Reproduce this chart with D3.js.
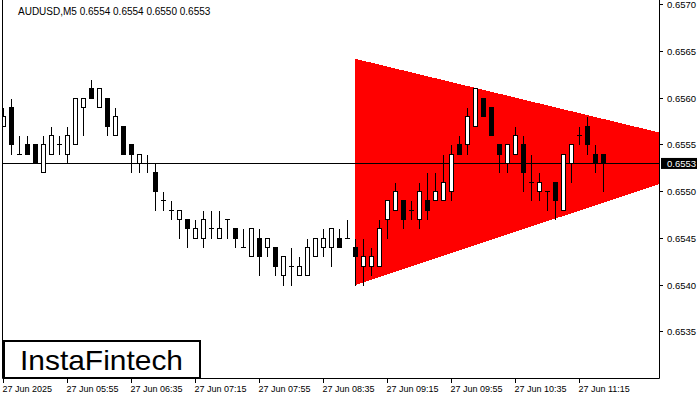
<!DOCTYPE html>
<html><head><meta charset="utf-8">
<script src="https://cdn.jsdelivr.net/npm/d3@7"></script>
<style>
html,body{margin:0;padding:0;background:#fff;}
svg{display:block;}
text{font-family:"Liberation Sans",Arial,sans-serif;}
</style></head>
<body>
<svg id="chart" width="700" height="400"></svg>
<script>
const symbolTitle = "AUDUSD,M5  0.6554 0.6554 0.6550 0.6553";
const opens  = [0.6557,0.6559,0.6554,0.6555,0.6555,0.6552,0.6554,0.6555,0.6554,0.6555,0.6559,0.6561,0.6559,0.6560,0.6556,0.6557,0.6555,0.6553,0.6553,0.6552,0.6549,0.6548,0.6547,0.6547,0.6545,0.6545,0.6546,0.6545,0.6547,0.6546,0.6544,0.6543,0.6545,0.6544,0.6544,0.6541,0.6542,0.6541,0.6541,0.6543,0.6544,0.6544,0.6545,0.6545,0.6544,0.6542,0.6542,0.6542,0.6547,0.6548,0.6549,0.6548,0.6547,0.6549,0.6549,0.6549,0.6550,0.6555,0.6555,0.6557,0.6560,0.6559,0.6555,0.6553,0.6554,0.6555,0.6551,0.6550,0.6550,0.6551,0.6548,0.6553,0.6556,0.6557,0.6554,0.6554];
const highs  = [0.6559,0.6560,0.6556,0.6556,0.6555,0.6556,0.6557,0.6556,0.6557,0.6560,0.6560,0.6562,0.6561,0.6560,0.6559,0.6557,0.6555,0.6554,0.6554,0.6553,0.6550,0.6549,0.6548,0.6547,0.6547,0.6548,0.6548,0.6548,0.6547,0.6546,0.6546,0.6546,0.6546,0.6545,0.6544,0.6543,0.6544,0.6543,0.6545,0.6545,0.6546,0.6546,0.6546,0.6547,0.6545,0.6545,0.6544,0.6547,0.6549,0.6551,0.6549,0.6549,0.6551,0.6552,0.6552,0.6554,0.6555,0.6556,0.6559,0.6561,0.6560,0.6559,0.6555,0.6555,0.6557,0.6556,0.6554,0.6552,0.6550,0.6551,0.6554,0.6555,0.6557,0.6558,0.6555,0.6554];
const lows   = [0.6557,0.6554,0.6554,0.6554,0.6553,0.6552,0.6554,0.6554,0.6553,0.6555,0.6556,0.6560,0.6559,0.6556,0.6556,0.6554,0.6552,0.6552,0.6552,0.6548,0.6548,0.6547,0.6545,0.6544,0.6545,0.6544,0.6545,0.6545,0.6545,0.6544,0.6544,0.6543,0.6541,0.6543,0.6541,0.6540,0.6540,0.6541,0.6541,0.6543,0.6543,0.6542,0.6544,0.6545,0.6540,0.6540,0.6541,0.6542,0.6545,0.6548,0.6546,0.6547,0.6546,0.6547,0.6549,0.6549,0.6549,0.6554,0.6554,0.6557,0.6558,0.6556,0.6552,0.6552,0.6554,0.6550,0.6549,0.6549,0.6548,0.6547,0.6548,0.6551,0.6555,0.6554,0.6552,0.6550];
const closes = [0.6558,0.6555,0.6554,0.6554,0.6553,0.6555,0.6556,0.6555,0.6556,0.6560,0.6560,0.6560,0.6561,0.6557,0.6558,0.6554,0.6554,0.6554,0.6553,0.6550,0.6549,0.6548,0.6548,0.6546,0.6546,0.6547,0.6546,0.6546,0.6547,0.6545,0.6544,0.6546,0.6543,0.6545,0.6542,0.6543,0.6542,0.6542,0.6544,0.6545,0.6545,0.6546,0.6544,0.6545,0.6543,0.6543,0.6543,0.6546,0.6549,0.6550,0.6547,0.6548,0.6550,0.6548,0.6550,0.6551,0.6554,0.6554,0.6558,0.6561,0.6558,0.6556,0.6554,0.6555,0.6556,0.6552,0.6551,0.6551,0.6550,0.6549,0.6554,0.6555,0.6556,0.6555,0.6553,0.6553];
const xTickIdx = [0,8,16,24,32,40,48,56,64,72];
const xTickLabels = ["27 Jun 2025","27 Jun 05:55","27 Jun 06:35","27 Jun 07:15","27 Jun 07:55","27 Jun 08:35","27 Jun 09:15","27 Jun 09:55","27 Jun 10:35","27 Jun 11:15"];
const yTicks = [0.6535,0.6540,0.6545,0.6550,0.6555,0.6560,0.6565,0.6570];
const currentPrice = 0.6553;
const triIdx = [43.94,82,82,43.94];
const triPrice = [0.65642,0.65563,0.65508,0.6540];
const logoText = "InstaFintech";

const svg = d3.select("#chart");
const plotL = 3, plotR = 659, plotT = 0, plotB = 379;
const x = d3.scaleLinear().domain([0,1]).range([3.5,11.5]);
const y = d3.scaleLinear().domain([0.6530,0.6570]).range([378.5,4.5]);
const px = v => Math.round(v - 0.5) + 0.5;

svg.append("defs").append("clipPath").attr("id","plotclip")
  .append("rect").attr("x",plotL).attr("y",plotT).attr("width",plotR-plotL).attr("height",plotB-plotT);

const plot = svg.append("g").attr("clip-path","url(#plotclip)");

// triangle pattern
plot.append("path")
  .attr("d", d3.line()(triIdx.map((d,i)=>[x(d), y(triPrice[i])])) + "Z")
  .attr("fill","#ff0000").attr("shape-rendering","crispEdges");

// current price line
plot.append("line").attr("x1",plotL).attr("x2",plotR)
  .attr("y1",px(y(currentPrice))).attr("y2",px(y(currentPrice)))
  .attr("stroke","#000").attr("stroke-width",1).attr("shape-rendering","crispEdges");

// candles
const idx = d3.range(opens.length);
const cg = plot.append("g").attr("shape-rendering","crispEdges");
idx.forEach(i=>{
  const cx = px(x(i));
  const o = opens[i], c = closes[i], h = highs[i], l = lows[i];
  cg.append("line").attr("x1",cx).attr("x2",cx)
    .attr("y1",px(y(h))).attr("y2",px(y(l))).attr("stroke","#000");
  if (o === c) {
    cg.append("line").attr("x1",cx-2.5).attr("x2",cx+2.5)
      .attr("y1",px(y(o))).attr("y2",px(y(o))).attr("stroke","#000");
  } else {
    const top = px(y(Math.max(o,c))), bot = px(y(Math.min(o,c)));
    cg.append("rect").attr("x",cx-2).attr("width",4)
      .attr("y",top).attr("height",bot-top)
      .attr("fill", c > o ? "#fff" : "#000").attr("stroke","#000");
  }
});

// frame
svg.append("path").attr("d",`M${plotL-0.5},0 V${plotB-0.5} H${plotR+0.5} V0`)
  .attr("fill","none").attr("stroke","#000").attr("stroke-width",1);

// y axis
const yAxis = svg.append("g");
yTicks.forEach(t=>{
  const yy = px(y(t));
  yAxis.append("line").attr("x1",plotR).attr("x2",plotR+4).attr("y1",yy).attr("y2",yy).attr("stroke","#000");
  yAxis.append("text").attr("x",667).attr("y",yy).attr("dy","0.35em")
    .attr("font-size",9.5).attr("fill","#000").text(t.toFixed(4));
});
// current price label
const cy = y(currentPrice);
svg.append("rect").attr("x",661).attr("y",cy-5.5).attr("width",36).attr("height",11).attr("fill","#000");
svg.append("text").attr("x",667).attr("y",cy).attr("dy","0.35em")
  .attr("font-size",9.5).attr("fill","#fff").text(currentPrice.toFixed(4));

// x axis
const xAxis = svg.append("g");
xTickIdx.forEach((t,k)=>{
  const xx = px(x(t));
  xAxis.append("line").attr("x1",xx).attr("x2",xx).attr("y1",plotB).attr("y2",plotB+4).attr("stroke","#000");
  xAxis.append("text").attr("x",xx-1).attr("y",392).attr("font-size",9)
    .attr("fill","#000").text(xTickLabels[k]);
});

// title
svg.append("text").attr("x",18).attr("y",15).attr("font-size",10).attr("fill","#000").text(symbolTitle);

// logo
svg.append("rect").attr("x",4).attr("y",341).attr("width",196).attr("height",37)
  .attr("fill","#fff").attr("stroke","#000").attr("stroke-width",2);
svg.append("text").attr("x",20).attr("y",370).attr("font-size",28)
  .attr("font-family","'Open Sans',sans-serif").attr("fill","#000")
  .attr("textLength",163).attr("lengthAdjust","spacingAndGlyphs").text(logoText);
</script>
</body></html>
